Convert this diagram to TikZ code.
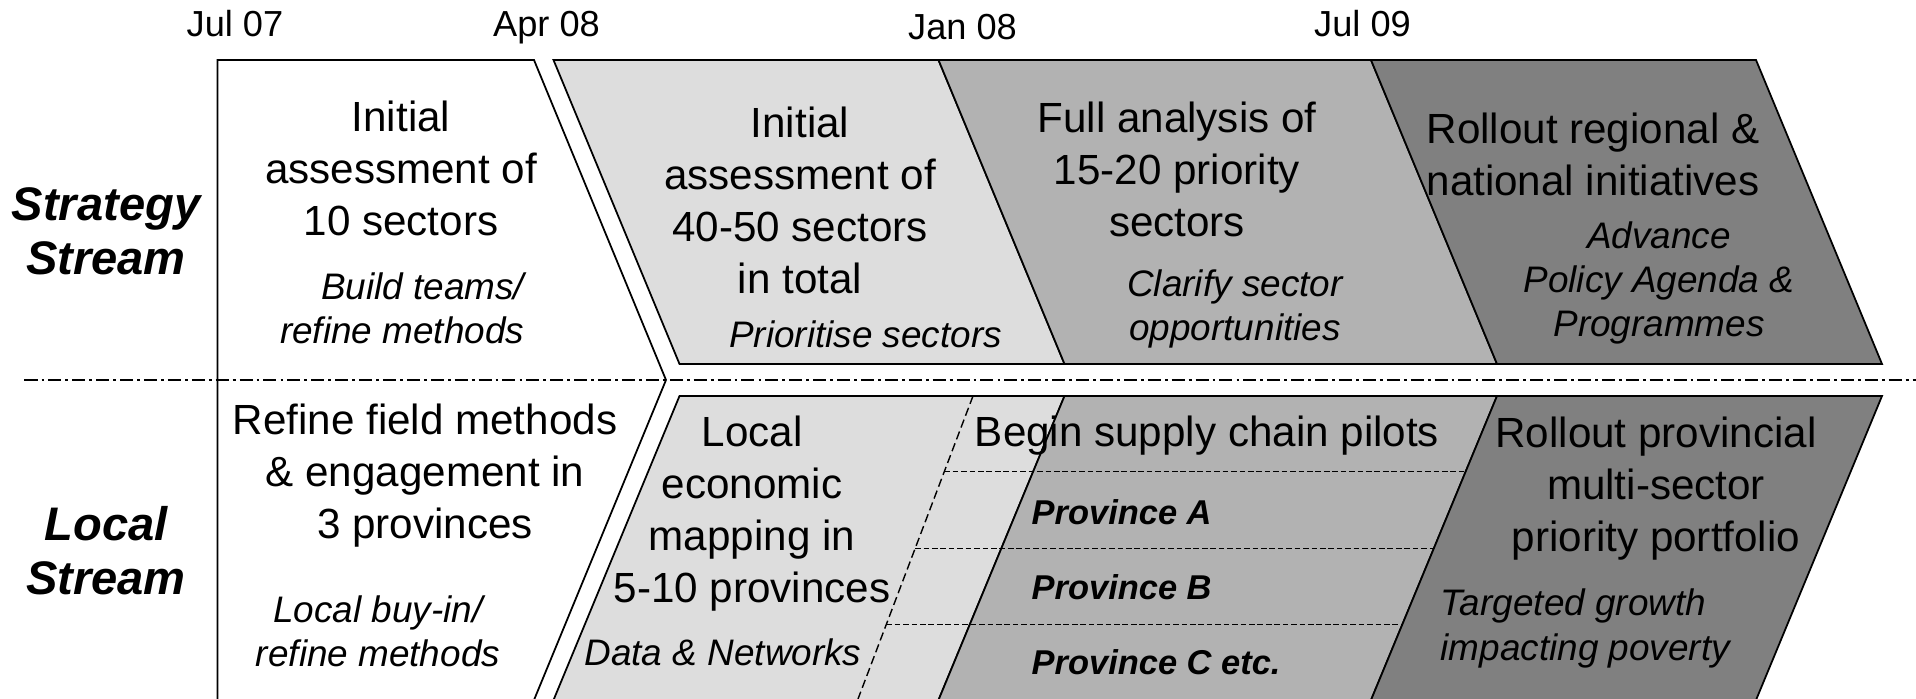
\documentclass[tikz,border=0pt]{standalone}
\usepackage{fontspec}
\setmainfont{Liberation Sans}
\usepackage{tikz}

\definecolor{phaseone}{HTML}{DDDDDD}
\definecolor{phasetwo}{HTML}{B2B2B2}
\definecolor{phasethree}{HTML}{808080}

\begin{document}
\begin{tikzpicture}[
        outline/.style={draw=black, line width=0.5pt},
        big/.style={align=center, inner sep=0pt, font=\fontsize{12}{14.8}\selectfont},
        sub/.style={align=center, inner sep=0pt, font=\fontsize{10.5}{12.6}\selectfont\itshape},
        stream/.style={align=center, inner sep=0pt, font=\fontsize{13.4}{15.3}\selectfont\bfseries\itshape},
        province/.style={anchor=west, inner sep=0pt, font=\fontsize{9.8}{12}\selectfont\bfseries\itshape},
        date/.style={anchor=base, inner sep=0pt, font=\fontsize{10.3}{12}\selectfont},
        pilot/.style={line width=0.4pt, dash pattern=on 1.6pt off 0.8pt},
        pilotslant/.style={line width=0.4pt, dash pattern=on 2.4pt off 1.2pt}
    ]
        \useasboundingbox (0,0) rectangle (19.16,6.99);

        % first phase, both streams
        \draw[outline, fill=white] (2.175,-0.1) -- (2.175,6.39) -- (5.34,6.39) -- (6.66,3.19) -- (5.303,-0.1);

        % strategy stream phases
        \draw[outline, fill=phaseone] (5.535,6.39) -- (9.385,6.39) -- (10.645,3.35) -- (6.795,3.35) -- cycle;
        \draw[outline, fill=phasetwo] (9.385,6.39) -- (13.71,6.39) -- (14.97,3.35) -- (10.645,3.35) -- cycle;
        \draw[outline, fill=phasethree] (13.71,6.39) -- (17.56,6.39) -- (18.82,3.35) -- (14.97,3.35) -- cycle;

        % local stream phases
        \draw[outline, fill=phaseone] (6.795,3.03) -- (10.645,3.03) -- (9.348,-0.1) -- (5.498,-0.1) -- cycle;
        \draw[outline, fill=phasetwo] (10.645,3.03) -- (14.97,3.03) -- (13.673,-0.1) -- (9.348,-0.1) -- cycle;
        \draw[outline, fill=phasethree] (14.97,3.03) -- (18.82,3.03) -- (17.523,-0.1) -- (13.673,-0.1) -- cycle;

        % supply chain pilots
        \draw[pilotslant] (9.73,3.03) -- (8.58,0);
        \draw[pilot] (9.443,2.273) -- (14.656,2.273);
        \draw[pilot] (9.151,1.504) -- (14.338,1.504);
        \draw[pilot] (8.863,0.746) -- (14.023,0.746);

        % stream divider
        \draw[line width=0.5pt, dash pattern=on 3.7pt off 1.15pt on 0.8pt off 1.15pt] (0.245,3.19) -- (19.16,3.19);

        % dates
        \node[date] (jul07) at (2.35,6.62) {Jul 07};
        \node[date] (apr08) at (5.465,6.62) {Apr 08};
        \node[date] (jan08) at (9.625,6.59) {Jan 08};
        \node[date] (jul09) at (13.625,6.62) {Jul 09};

        % streams
        \node[stream] (strategy) at (1.06,4.68) {Strategy\\Stream};
        \node[stream] (local) at (1.06,1.48) {Local\\Stream};

        % strategy stream texts
        \node[big] (sone) at (4.01,5.31) {Initial\\assessment of\\10 sectors};
        \node[sub, align=right, anchor=east] (sonenote) at (5.25,3.91) {Build teams/\\refine methods};
        \node[big] (stwo) at (8.00,4.99) {Initial\\assessment of\\40-50 sectors\\in total};
        \node[sub] (stwonote) at (8.655,3.65) {Prioritise sectors};
        \node[big] (sthree) at (11.77,5.30) {Full analysis of\\15-20 priority\\sectors};
        \node[sub] (sthreenote) at (12.35,3.90) {Clarify sector\\opportunities};
        \node[big] (sfour) at (15.93,5.45) {Rollout regional \&\\national initiatives};
        \node[sub] (sfournote) at (16.59,4.16) {Advance\\Policy Agenda \&\\Programmes};

        % local stream texts
        \node[big] (lone) at (4.25,2.23) {Refine field methods\\\& engagement in\\3 provinces};
        \node[sub] (lonenote) at (3.78,0.68) {Local buy-in/\\refine methods};
        \node[big] (ltwo) at (7.52,1.85) {Local\\economic\\mapping in\\5-10 provinces};
        \node[sub] (ltwonote) at (7.23,0.47) {Data \& Networks};
        \node[big] (lpilots) at (12.07,2.63) {Begin supply chain pilots};
        \node[province] (provA) at (10.31,1.87) {Province A};
        \node[province] (provB) at (10.31,1.12) {Province B};
        \node[province] (provC) at (10.31,0.37) {Province C etc.};
        \node[big] (lfour) at (16.56,2.10) {Rollout provincial\\multi-sector\\priority portfolio};
        \node[sub, align=left, anchor=west] (lfournote) at (14.40,0.705) {Targeted growth\\impacting poverty};
\end{tikzpicture}
\end{document}
